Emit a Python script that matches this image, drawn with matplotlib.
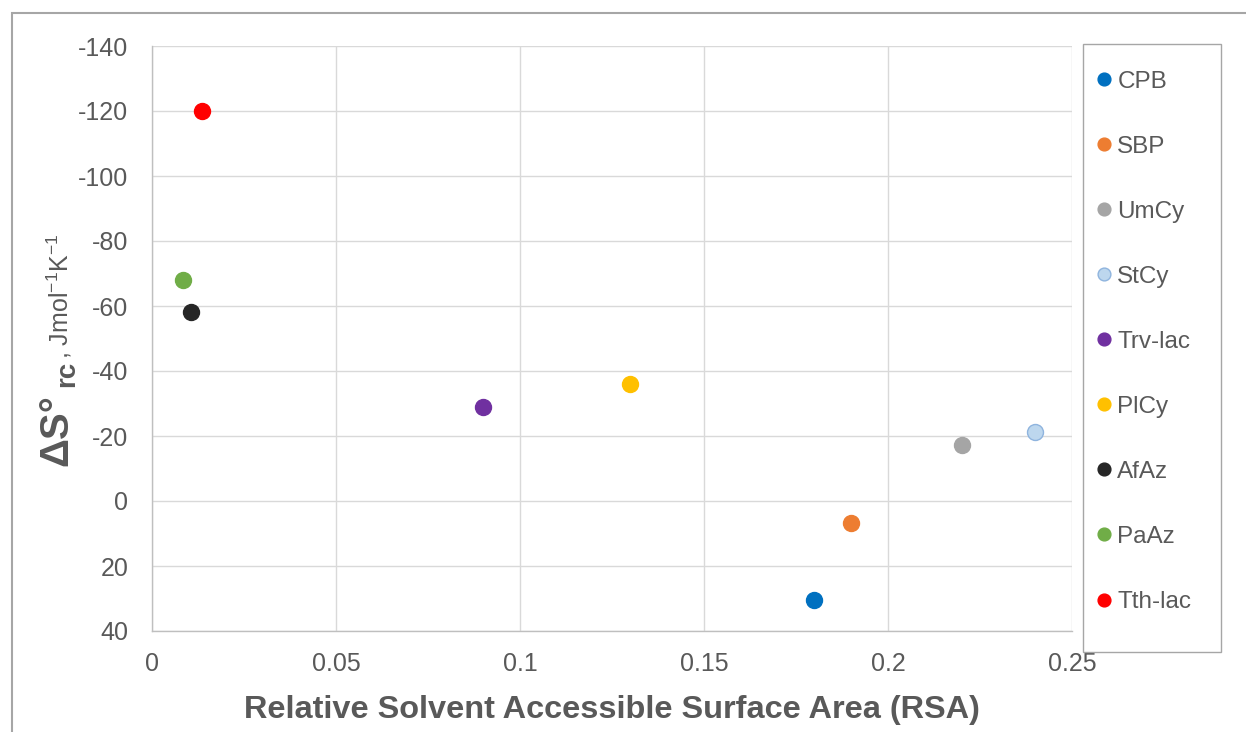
"""
Reaction entropy vs relative solvent accessible surface area.
"""
import matplotlib
matplotlib.use('Agg')
import matplotlib.pyplot as plt
from matplotlib.patches import Rectangle

plt.rcParams['font.family'] = ['Liberation Sans', 'DejaVu Sans']
plt.rcParams['axes.unicode_minus'] = False
plt.rcParams['mathtext.default'] = 'regular'

# data
proteins = ['CPB', 'SBP', 'UmCy', 'StCy', 'Trv-lac', 'PlCy', 'AfAz', 'PaAz', 'Tth-lac']
rsa = [0.18, 0.19, 0.22, 0.24, 0.09, 0.13, 0.0105, 0.0085, 0.0135]
dS = [30.5, 6.8, -17.2, -21.2, -28.9, -36.0, -58.2, -68.0, -120.0]
colors = ['#0070C0', '#ED7D31', '#A5A5A5', '#BDD7EE', '#7030A0',
          '#FFC000', '#262626', '#70AD47', '#FF0000']
edges = ['#0070C0', '#ED7D31', '#A5A5A5', '#8FB4DE', '#7030A0',
         '#FFC000', '#262626', '#70AD47', '#FF0000']

xticks = [0, 0.05, 0.1, 0.15, 0.2, 0.25]
xticklabels = ['0', '0.05', '0.1', '0.15', '0.2', '0.25']
yticks = list(range(-140, 41, 20))

txt = '#595959'
W, H = 1246, 732
fig = plt.figure(figsize=(W / 100, H / 100), dpi=100)
ax = fig.add_axes([152 / W, 1 - 631 / H, (1072 - 152) / W, (631 - 46) / H])

for name, x, y, c, e in zip(proteins, rsa, dS, colors, edges):
    ax.plot(x, y, 'o', ms=11.5, color=c, mec=e, mew=1, label=name, zorder=3)

ax.set_xlim(0, 0.25)
ax.set_ylim(40, -140)
ax.set_xticks(xticks)
ax.set_xticklabels(xticklabels)
ax.set_yticks(yticks)
ax.grid(True, color='#D9D9D9', lw=1)
ax.set_axisbelow(True)
for s in ['top', 'right']:
    ax.spines[s].set_visible(False)
for s in ['left', 'bottom']:
    ax.spines[s].set_color('#BFBFBF')
    ax.spines[s].set_linewidth(1)
ax.tick_params(length=0, labelsize=18, labelcolor=txt)
ax.tick_params(axis='y', pad=17)
ax.tick_params(axis='x', pad=15)

ax.set_xlabel('Relative Solvent Accessible Surface Area (RSA)', fontsize=23.4,
              fontweight='bold', color=txt, labelpad=14)

# y label built from pieces so sizes can differ
t1 = fig.text(67 / W, 1 - 466 / H, 'ΔS°', rotation=90, rotation_mode='anchor',
              ha='left', va='baseline', fontsize=29, fontweight='bold', color=txt)
fig.canvas.draw()
r = fig.canvas.get_renderer()
bb = t1.get_window_extent(r)
t2 = fig.text(74 / W, (bb.y1 + 7) / H, 'rc', rotation=90, rotation_mode='anchor',
              ha='left', va='baseline', fontsize=20, fontweight='bold', color=txt)
bb = t2.get_window_extent(r)
fig.text(69 / W, (bb.y1 + 2) / H, ', Jmol$^{-1}$K$^{-1}$', rotation=90,
         rotation_mode='anchor', ha='left', va='baseline', fontsize=18, color=txt)

leg = ax.legend(loc='upper left', bbox_to_anchor=(1070 / W, 1 - 44 / H),
                bbox_transform=fig.transFigure, fontsize=17.5,
                labelspacing=1.77, handlelength=0.6, handletextpad=0.25,
                borderpad=1.1, markerscale=0.8, frameon=False, borderaxespad=0)
for t in leg.get_texts():
    t.set_color(txt)

# legend frame and outer chart frame
fig.patches.append(Rectangle((1083 / W, 1 - 652 / H), 138 / W, 608 / H,
                             transform=fig.transFigure, fill=False,
                             edgecolor='#A6A6A6', lw=1))
fig.patches.append(Rectangle((12 / W, -0.1), 1.2, 1.1 - 13 / H, transform=fig.transFigure,
                             fill=False, edgecolor='#A6A6A6', lw=1.5))

fig.savefig('out.png', dpi=100)
